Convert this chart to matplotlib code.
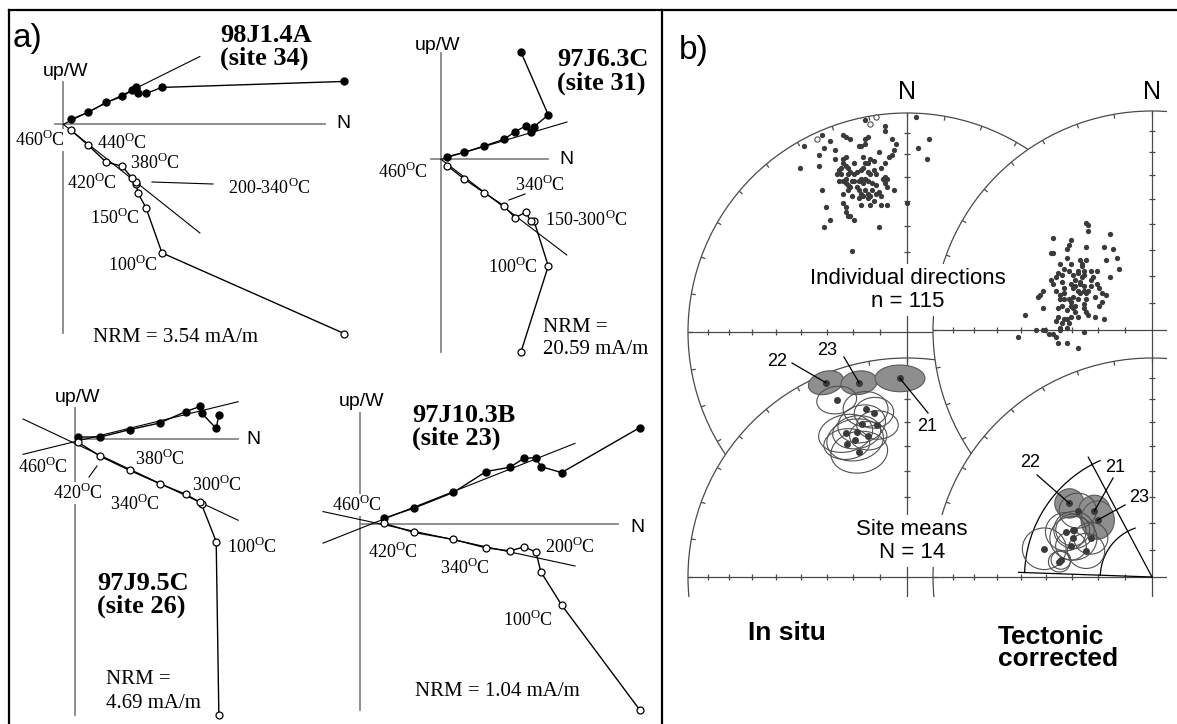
import numpy as np
import matplotlib
matplotlib.use("Agg")
import matplotlib.pyplot as plt
from matplotlib.patches import Circle, Ellipse
from matplotlib.collections import LineCollection

plt.rcParams["font.family"] = "Liberation Sans"
plt.rcParams["mathtext.fontset"] = "custom"
plt.rcParams["mathtext.rm"] = "Liberation Serif"
plt.rcParams["mathtext.bf"] = "Liberation Serif:bold"

# ---------------- a) orthogonal demagnetisation diagrams (mA/m) ----------------
# each series starts at NRM and follows the thermal steps
steps1 = ["NRM", "100", "150", "200", "250", "300", "340", "380", "420", "440", "460"]
north1 = [2.82, 0.99, 0.83, 0.75, 0.73, 0.73, 0.69, 0.59, 0.43, 0.25, 0.08]
west1 = [0.43, 0.37, 0.31, 0.31, 0.37, 0.35, 0.34, 0.28, 0.22, 0.12, 0.05]
up1 = [-2.10, -1.29, -0.84, -0.69, -0.60, -0.58, -0.54, -0.42, -0.38, -0.21, -0.06]
fit1_h = ([0.0, 1.37], [0.0, 0.68])
fit1_v = ([0.0, 1.37], [0.0, -1.09])

steps2 = ["NRM", "100", "150", "200", "250", "300", "340", "380", "420", "460"]
north2 = [7.02, 9.41, 8.16, 7.87, 7.43, 6.49, 5.53, 3.80, 2.04, 0.55]
west2 = [9.39, 3.89, 2.86, 2.42, 2.92, 2.42, 1.75, 1.17, 0.61, 0.23]
up2 = [-16.88, -9.36, -5.41, -5.41, -4.65, -5.12, -4.10, -2.93, -1.73, -0.56]
fit2_h = ([0.0, 11.05], [0.0, 3.27])
fit2_v = ([0.0, 11.03], [0.0, -8.39])

steps3 = ["NRM", "100", "150", "200", "300", "340", "380", "420", "460"]
north3 = [2.16, 2.12, 1.90, 1.88, 1.66, 1.27, 0.82, 0.38, 0.05]
west3 = [0.36, 0.16, 0.39, 0.49, 0.41, 0.24, 0.14, 0.03, 0.03]
up3 = [-4.14, -1.54, -0.98, -0.95, -0.83, -0.67, -0.47, -0.26, -0.05]
fit3_h = ([-0.78, 2.45], [-0.23, 0.56])
fit3_v = ([-0.78, 2.45], [0.30, -1.22])

steps4 = ["NRM", "100", "150", "200", "250", "300", "340", "380", "420", "460"]
north4 = [0.833, 0.600, 0.538, 0.524, 0.489, 0.446, 0.375, 0.278, 0.160, 0.071]
west4 = [0.287, 0.153, 0.171, 0.197, 0.196, 0.169, 0.156, 0.094, 0.047, 0.017]
up4 = [-0.554, -0.241, -0.142, -0.084, -0.068, -0.080, -0.071, -0.046, -0.025, 0.002]
fit4_h = ([-0.110, 0.640], [-0.057, 0.240])
fit4_v = ([-0.110, 0.640], [0.037, -0.125])

# ---------------- b) equal-area projections (net radius = 100) ----------------
insitu_dirs = np.array([
    (4, 98), (10, 88), (5, 84), (9, 79), (0, 59), (-19, 97), (-10, 94), (-10, 92),
    (-39, 90), (-47, 85), (-35, 87), (-38, 84), (-33, 83), (-49, 75), (-40, 76), (-40, 81),
    (-29, 90), (-28, 89), (-26, 88), (-18, 89), (-19, 88), (-19, 86), (-21, 85), (-22, 85),
    (-7, 88), (-6, 83), (-7, 81), (-8, 80), (-10, 77), (-13, 82), (-17, 79), (-18, 77),
    (-28, 80), (-29, 79), (-29, 77), (-30, 75), (-31, 74), (-32, 72), (-28, 76), (-27, 75),
    (-26, 73), (-27, 72), (-23, 73), (-21, 74), (-20, 75), (-19, 77), (-18, 73), (-17, 72),
    (-15, 74), (-12, 75), (-10, 71), (-9, 70), (-10, 68), (-9, 66), (-6, 65), (-31, 69),
    (-29, 69), (-28, 70), (-28, 68), (-27, 67), (-26, 66), (-27, 65), (-25, 69), (-24, 69),
    (-22, 69), (-21, 70), (-19, 70), (-18, 69), (-16, 68), (-14, 67), (-21, 63), (-20, 62),
    (-18, 61), (-17, 62), (-15, 60), (-14, 63), (-13, 64), (-19, 65), (-22, 65), (-39, 65),
    (-37, 57), (-29, 59), (-28, 57), (-21, 58), (-17, 58), (-12, 58), (-9, 58), (-28, 55),
    (-27, 53), (-26, 53), (-24, 51), (-35, 51), (-38, 48), (-13, 48), (-25, 37), (-24, 72),
    (-23, 66), (-16, 65), (-11, 70), (-25, 62), (-20, 68), (-14, 72), (-22, 61), (-30, 72),
    (-12, 62), (-18, 63), (-33, 79), (-5, 86), (-24, 77), (-15, 78), (-29, 63), (-20, 80),
])
insitu_up = np.array([(-41, 88), (-17, 95), (-14, 98)])

tilt_dirs = np.array([
    (-30, 49), (-29, 48), (-29, 45), (-19, 44), (-45, 42), (-37, 41), (-38, 39), (-39, 37),
    (-30, 38), (-22, 38), (-18, 37), (-46, 35), (-45, 35), (-39, 33), (-33, 32), (-30, 32),
    (-32, 30), (-21, 32), (-16, 33), (-42, 30), (-37, 30), (-32, 29), (-31, 27), (-31, 25),
    (-15, 28), (-43, 26), (-41, 25), (-38, 27), (-36, 25), (-34, 26), (-32, 24), (-33, 22),
    (-28, 23), (-27, 24), (-25, 27), (-19, 24), (-46, 23), (-45, 21), (-41, 22), (-40, 19),
    (-37, 21), (-36, 19), (-35, 20), (-34, 18), (-31, 18), (-30, 17), (-29, 18), (-25, 21),
    (-24, 19), (-23, 17), (-21, 16), (-50, 18), (-51, 16), (-52, 15), (-44, 18), (-42, 16),
    (-42, 14), (-40, 17), (-38, 14), (-36, 15), (-33, 17), (-30, 14), (-31, 12), (-23, 13),
    (-24, 11), (-50, 10), (-43, 10), (-39, 9), (-37, 11), (-36, 10), (-35, 11), (-31, 10),
    (-30, 8), (-29, 7), (-26, 6), (-22, 5), (-58, 7), (-43, 6), (-40, 5), (-39, 5),
    (-37, 6), (-34, 6), (-38, 3), (-41, 3), (-42, 1), (-61, -3), (-53, 0), (-50, 0),
    (-49, 0), (-47, -2), (-45, -2), (-44, -3), (-42, 0), (-39, 1), (-31, -1), (-43, -6),
    (-39, -6), (-34, -8), (-35, 23), (-28, 20), (-34, 14), (-37, 13), (-40, 14), (-33, 21),
    (-26, 15), (-44, 24), (-40, 28), (-34, 27), (-28, 27), (-31, 20), (-41, 11), (-35, 8),
    (-44, 4),
])

# site means; the first three (shaded ovals) are the labelled sites
insitu_sites = ["22", "23", "21"]
insitu_mean_x = [-37.0, -21.9, -3.2, -32.1, -18.9, -15.1, -20.7, -13.5, -28.0, -23.0, -23.7, -27.5, -17.7, -21.8]
insitu_mean_y = [88.7, 88.7, 90.7, 80.8, 76.7, 75.0, 69.9, 69.4, 65.6, 66.1, 62.6, 60.7, 64.5, 57.0]
insitu_oval_w = [16.4, 16.7, 22.8, 18.3, 20.5, 18.0, 22.0, 19.0, 25.0, 22.0, 26.0, 21.0, 17.0, 26.0]
insitu_oval_h = [10.4, 10.7, 12.2, 12.5, 16.0, 14.0, 17.0, 13.0, 17.0, 15.0, 19.0, 14.0, 13.0, 19.0]
insitu_oval_ang = [15, 8, 0, 8, 0, 5, 15, 0, 12, 8, 10, 5, 0, 8]

tilt_sites = ["22", "21", "23"]
tilt_mean_x = [-37.7, -26.3, -24.8, -33.9, -39.4, -36.2, -35.9, -37.0, -27.9, -30.1, -49.2, -42.3, -41.6, -35.6]
tilt_mean_y = [33.6, 30.1, 26.0, 30.3, 20.7, 21.5, 17.7, 14.2, 17.7, 11.9, 12.9, 7.0, 7.8, 21.5]
tilt_oval_w = [13.4, 14.5, 15.2, 17.0, 18.5, 15.5, 21.5, 14.0, 15.5, 17.0, 20.0, 10.0, 9.0, 18.5]
tilt_oval_h = [13.4, 14.5, 17.5, 16.0, 17.5, 14.5, 20.0, 13.0, 14.5, 16.0, 19.0, 9.5, 8.5, 17.0]

# wedge on the tilt-corrected means: radial limits (deg) and radii (net units)
wedge_dec = [272, 332]
wedge_len = [61, 62]
wedge_arc_r = [58.2, 23.6]
wedge_arc_end = [336, 341]

W, H = 1177, 724
fig = plt.figure(figsize=(W / 100, H / 100), dpi=100)


def axes_px(x0, y0, x1, y1, z=1):
    ax = fig.add_axes([x0 / W, 1 - y1 / H, (x1 - x0) / W, (y1 - y0) / H], zorder=z)
    ax.axis("off")
    ax.patch.set_visible(False)
    return ax


canvas = axes_px(0, 0, W, H, z=20)
canvas.set_xlim(0, W)
canvas.set_ylim(H, 0)

GREY = "#878787"
SERIF = "Liberation Serif"


def deg(t):
    return t + r"$^{\mathrm{O}}$C"


def zijderveld(box, origin, scale, north, west, up, fit_h, fit_v, n_axis, u_axis, labels):
    x0, y0, x1, y1 = box
    ox, oy = origin
    ax = axes_px(x0, y0, x1, y1, z=2)
    ax.set_xlim((x0 - ox) / scale, (x1 - ox) / scale)
    ax.set_ylim((oy - y1) / scale, (oy - y0) / scale)
    ax.plot(n_axis, [0, 0], color=GREY, lw=1.3, zorder=1, clip_on=False)
    ax.plot([0, 0], u_axis, color=GREY, lw=1.3, zorder=1, clip_on=False)
    for fit in (fit_h, fit_v):
        ax.plot(fit[0], fit[1], color="black", lw=0.8, zorder=3, clip_on=False)
    ax.plot(north, west, "-o", color="black", ms=5, lw=1.0, zorder=4, clip_on=False)
    ax.plot(north, up, "-o", color="black", mfc="white", mec="black", mew=0.9,
            ms=5, lw=1.0, zorder=4, clip_on=False)
    for t, lx, ly in labels:
        ax.text(lx, ly, deg(t), transform=canvas.transData, family=SERIF, fontsize=13,
                ha="left", va="center", zorder=2,
                bbox=dict(boxstyle="square,pad=0.05", fc="white", ec="none"))
    return ax


zijderveld((10, 12, 357, 358), (63.3, 124.3), 99.7, north1, west1, up1, fit1_h, fit1_v,
           [-0.08, 2.62], [0.42, -2.09],
           [("460", 15, 140), ("440", 97, 143), ("380", 130, 163), ("420", 67, 183),
            ("200-340", 228, 188), ("150", 90, 218), ("100", 108, 265)])
zijderveld((358, 12, 660, 358), (441, 159.3), 11.4, north2, west2, up2, fit2_h, fit2_v,
           [-0.88, 9.39], [9.32, -16.9],
           [("460", 378, 172), ("340", 515, 185), ("150-300", 545, 220), ("100", 488, 267)])
zijderveld((10, 358, 330, 722), (75, 439), 66.6, north3, west3, up3, fit3_h, fit3_v,
           [0.0, 2.45], [0.47, -4.14],
           [("460", 18, 467), ("380", 135, 459), ("420", 53, 493), ("340", 110, 504),
            ("300", 192, 485), ("100", 227, 547)])
zijderveld((300, 380, 660, 722), (360, 524), 336, north4, west4, up4, fit4_h, fit4_v,
           [0.0, 0.768], [0.33, -0.554],
           [("460", 332, 505), ("420", 368, 552), ("340", 440, 568), ("200", 545, 547),
            ("100", 503, 620)])

# leader lines next to temperature labels
for (xa, ya), (xb, yb) in [((152, 182), (213, 184)), ((509, 200), (525, 194)), ((89, 477), (97, 466))]:
    canvas.plot([xa, xb], [ya, yb], color="black", lw=0.8)

# axis names, specimen names, NRM intensities
for x, y in [(66, 72), (438, 46), (77, 397), (362, 401)]:
    canvas.text(x, y, "up/W", fontsize=14, ha="center", va="center")
for x, y in [(343, 124), (566, 160), (253, 440), (637, 527)]:
    canvas.text(x, y, "N", fontsize=14, ha="center", va="center")
for name, site, x, y in [("98J1.4A", "34", 220, 35), ("97J6.3C", "31", 557, 60),
                         ("97J9.5C", "26", 97, 583), ("97J10.3B", "23", 412, 415)]:
    canvas.text(x, y, name, family=SERIF, weight="bold", fontsize=19, ha="left", va="center")
    canvas.text(x, y + 23, f"(site {site})", family=SERIF, weight="bold", fontsize=19,
                ha="left", va="center")
canvas.text(93, 338, "NRM = 3.54 mA/m", family=SERIF, fontsize=15, ha="left", va="center")
canvas.text(543, 328, "NRM =", family=SERIF, fontsize=15, ha="left", va="center")
canvas.text(543, 349, "20.59 mA/m", family=SERIF, fontsize=15, ha="left", va="center")
canvas.text(106, 680, "NRM =", family=SERIF, fontsize=15, ha="left", va="center")
canvas.text(106, 703, "4.69 mA/m", family=SERIF, fontsize=15, ha="left", va="center")
canvas.text(415, 692, "NRM = 1.04 mA/m", family=SERIF, fontsize=15, ha="left", va="center")

# ---------------- stereonets ----------------
R_PX = 219
NET_BOX = (662, 12, 1167, 597)
NET = "#4a4a4a"
DOT = "#3a3a3a"


def stereonet(center, z):
    x0, y0, x1, y1 = NET_BOX
    cx, cy = center
    s = R_PX / 100
    ax = axes_px(x0, y0, x1, y1, z=z)
    ax.set_xlim((x0 - cx) / s, (x1 - cx) / s)
    ax.set_ylim((cy - y1) / s, (cy - y0) / s)
    ax.add_patch(Circle((0, 0), 100, fc="white", ec=NET, lw=0.9, zorder=0))
    ax.plot([-100, 100], [0, 0], color=NET, lw=0.9, zorder=1)
    ax.plot([0, 0], [-100, 100], color=NET, lw=0.9, zorder=1)
    segs = []
    for d in np.radians(np.arange(0, 360, 10)):
        segs.append([(98 * np.sin(d), 98 * np.cos(d)), (100 * np.sin(d), 100 * np.cos(d))])
    radii = 100 * np.sqrt(2) * np.sin(np.radians((90 - np.arange(10, 90, 10)) / 2))
    for r in radii:
        segs.append([(-r, -1.4), (-r, 1.4)])
        segs.append([(-1.4, r), (1.4, r)])
    ax.add_collection(LineCollection(segs, colors=NET, linewidths=0.9, zorder=1))
    return ax


def site_means(ax, mx, my, ow, oh, ang, n_shaded):
    for i in range(n_shaded):
        ax.add_patch(Ellipse((mx[i], my[i]), ow[i], oh[i], angle=ang[i], fc="#8e8e8e",
                             ec="#5a5a5a", lw=0.8, zorder=2))
    for i in range(n_shaded, len(mx)):
        ax.add_patch(Ellipse((mx[i], my[i]), ow[i], oh[i], angle=ang[i], fill=False,
                             ec="#505050", lw=0.8, zorder=3))
    ax.plot(mx, my, "o", color=DOT, ms=5, mec="none", zorder=4)


ax_is = stereonet((907, 332), 3)
ax_is.plot(insitu_dirs[:, 0], insitu_dirs[:, 1], "o", color=DOT, ms=3.8, mec="none", zorder=3)
ax_is.plot(insitu_up[:, 0], insitu_up[:, 1], "o", mfc="white", mec=DOT, mew=0.7, ms=3.8, zorder=3)

ax_im = stereonet((907, 577), 4)
site_means(ax_im, insitu_mean_x, insitu_mean_y, insitu_oval_w, insitu_oval_h, insitu_oval_ang, 3)
for lab, (tx, ty), (ax0, ay0), i in [("22", (-59.4, 98.2), (-52.5, 97.7), 0),
                                     ("23", (-36.5, 103.5), (-28.8, 100.5), 1),
                                     ("21", (9.1, 68.5), (9.6, 74.9), 2)]:
    ax_im.plot([ax0, insitu_mean_x[i]], [ay0, insitu_mean_y[i]], color="black", lw=0.9, zorder=5)
    ax_im.text(tx, ty, lab, fontsize=13, ha="center", va="center", zorder=6)

ax_ts = stereonet((1152, 330), 5)
ax_ts.plot(tilt_dirs[:, 0], tilt_dirs[:, 1], "o", color=DOT, ms=3.8, mec="none", zorder=3)

ax_tm = stereonet((1152, 577), 6)
for dec, ln in zip(wedge_dec, wedge_len):
    d = np.radians(dec)
    ax_tm.plot([0, ln * np.sin(d)], [0, ln * np.cos(d)], color="black", lw=0.9, zorder=2)
for r, end in zip(wedge_arc_r, wedge_arc_end):
    d = np.radians(np.linspace(wedge_dec[0], end, 60))
    ax_tm.plot(r * np.sin(d), r * np.cos(d), color="black", lw=0.9, zorder=2)
site_means(ax_tm, tilt_mean_x, tilt_mean_y, tilt_oval_w, tilt_oval_h, [0] * 14, 3)
for lab, (tx, ty), (ax0, ay0), i in [("22", (-55.7, 52.5), (-52.5, 46.6), 0),
                                     ("21", (-16.9, 50.0), (-17.8, 45.2), 1),
                                     ("23", (-6.0, 36.5), (-12.3, 32.9), 2)]:
    ax_tm.plot([ax0, tilt_mean_x[i]], [ay0, tilt_mean_y[i]], color="black", lw=0.9, zorder=5)
    ax_tm.text(tx, ty, lab, fontsize=13, ha="center", va="center", zorder=6)

# panel b text
canvas.text(907, 92, "N", fontsize=18, ha="center", va="center")
canvas.text(1152, 92, "N", fontsize=18, ha="center", va="center")
canvas.text(908, 290, "Individual directions\nn = 115", fontsize=16, ha="center", va="center",
            linespacing=1.1, bbox=dict(boxstyle="square,pad=0.2", fc="white", ec="none"))
canvas.text(912, 541, "Site means\nN = 14", fontsize=16, ha="center", va="center",
            linespacing=1.1, bbox=dict(boxstyle="square,pad=0.2", fc="white", ec="none"))
canvas.text(748, 633, "In situ", fontsize=19, weight="bold", ha="left", va="center")
canvas.text(998, 648, "Tectonic\ncorrected", fontsize=19, weight="bold", ha="left", va="center",
            linespacing=0.92)

canvas.text(13, 38, "a)", fontsize=24, ha="left", va="center")
canvas.text(679, 50, "b)", fontsize=24, ha="left", va="center")

# frame
canvas.plot([8.5, W], [10, 10], color="black", lw=1.6)
canvas.plot([8.5, 8.5], [10, H], color="black", lw=1.6)
canvas.plot([662, 662], [10, H], color="black", lw=1.6)

fig.savefig("out.png", dpi=100)
